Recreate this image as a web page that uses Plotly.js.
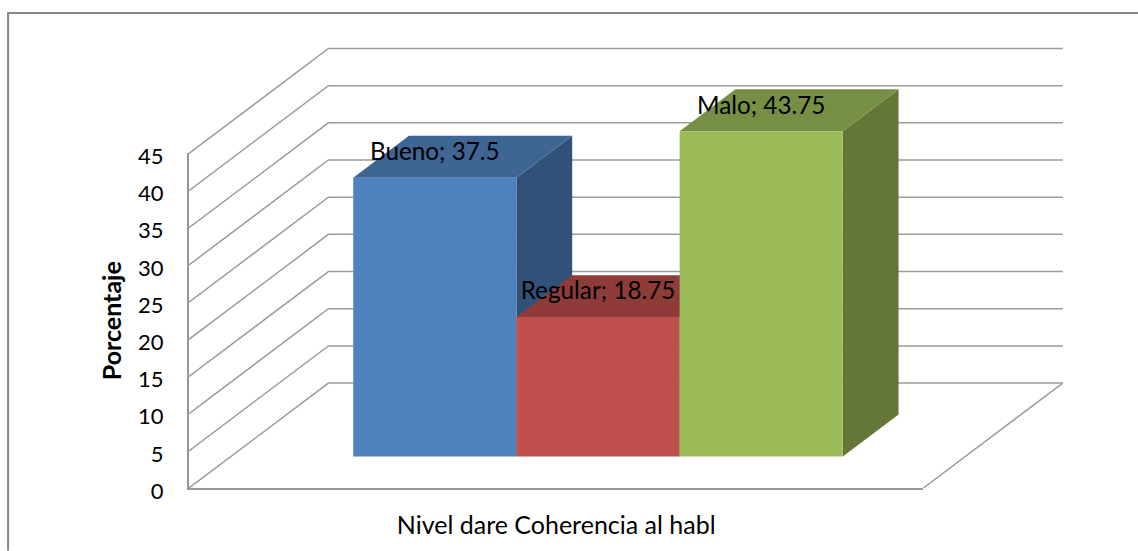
<!DOCTYPE html>
<html><head><meta charset="utf-8">
<script src="https://cdn.plot.ly/plotly-3.0.1.min.js"></script>
<style>html,body{margin:0;padding:0;background:#fff}#c{width:1138px;height:551px}</style>
</head><body><div id="c"></div>
<script>
const categories = ["Bueno", "Regular", "Malo"];
const values = [37.5, 18.75, 43.75];
const yTicks = [0, 5, 10, 15, 20, 25, 30, 35, 40, 45];
const frontColors = ["#4F81BD", "#C0504D", "#9BBB59"];
const topColors = ["#3F6593", "#8E3B39", "#778F45"];
const sideColors = ["#305279", "#8E3B39", "#647736"];
const GRID = "#9C9C9C";
const FONT = "Lato, Carlito, 'Open Sans', sans-serif";
const TITLE_SIZE = 25, LABEL_SIZE = 24.3, TICK_SIZE = 22;

// front box of the chart in page pixels, and the larger box that holds the 3D depth
const W = 1138, H = 551;
const L = 188.5, R = 923.3, T = 153.5, B = 488.3;
const R2 = 1075, T2 = 30;
const xMax = 4.5, yMax = 45;
const unitX = (R - L) / xMax, unitY = (B - T) / yMax;
// oblique projection: a point one full depth back shifts by this much in axis units
const shearX = 139.5 / unitX, shearY = 105 / unitY;
const gap = 0.75, depthFront = 0.3, depthBack = 0.7, labelLift = 3.2;

const P = (x, v, d) => [x + d * shearX, v + d * shearY];
const base = {type: "scatter", xaxis: "x2", yaxis: "y2", hoverinfo: "skip", showlegend: false, cliponaxis: false};
function poly(pts, color) {
  const p = pts.concat([pts[0]]);
  return Object.assign({}, base, {x: p.map(a => a[0]), y: p.map(a => a[1]), mode: "lines",
    fill: "toself", fillcolor: color, line: {width: 0, color: color}});
}
function path(pts) {
  return Object.assign({}, base, {x: pts.map(a => a[0]), y: pts.map(a => a[1]), mode: "lines",
    line: {color: GRID, width: 1.5}});
}
// the primary axes carry ticks and titles
const traces = [{type: "scatter", x: [], y: [], mode: "lines", hoverinfo: "skip", showlegend: false}];
yTicks.forEach(v => traces.push(path([P(0, v, 0), P(0, v, 1), P(xMax, v, 1)])));
traces.push(path([P(xMax, 0, 0), P(xMax, 0, 1)]));
values.forEach((v, i) => {
  const x0 = gap + i, x1 = x0 + 1;
  traces.push(poly([P(x1, 0, depthFront), P(x1, 0, depthBack), P(x1, v, depthBack), P(x1, v, depthFront)], sideColors[i]));
  traces.push(poly([P(x0, v, depthFront), P(x1, v, depthFront), P(x1, v, depthBack), P(x0, v, depthBack)], topColors[i]));
  traces.push(poly([P(x0, 0, depthFront), P(x1, 0, depthFront), P(x1, v, depthFront), P(x0, v, depthFront)], frontColors[i]));
});
const lab = values.map((v, i) => P(gap + i + 0.5, v + labelLift, depthFront));
traces.push(Object.assign({}, base, {x: lab.map(a => a[0]), y: lab.map(a => a[1]), mode: "text",
  text: values.map((v, i) => categories[i] + "; " + v),
  textposition: "middle center", textfont: {family: FONT, size: LABEL_SIZE, color: "#000"}}));

const px = x => (x - L) / (R2 - L), py = y => (B - y) / (B - T2);
const layout = {
  width: W, height: H, paper_bgcolor: "#fff", plot_bgcolor: "rgba(0,0,0,0)",
  margin: {l: L, r: W - R2, t: T2, b: H - B, pad: 0, autoexpand: false},
  showlegend: false,
  xaxis: {domain: [0, px(R)], range: [0, xMax], showgrid: false, zeroline: false, showticklabels: false, ticks: "",
    showline: true, linecolor: "#989898", linewidth: 2,
    title: {text: "Nivel dare Coherencia al habl", font: {family: FONT, size: TITLE_SIZE, color: "#000"}, standoff: 27}},
  yaxis: {domain: [0, py(T)], range: [0, yMax], tickvals: yTicks, ticktext: yTicks.map(String), showgrid: false, zeroline: false,
    showline: true, linecolor: "#989898", linewidth: 2, ticks: "outside", ticklen: 19, tickcolor: "rgba(0,0,0,0)",
    ticklabelshift: 3,
    tickfont: {family: FONT, size: TICK_SIZE, color: "#000"},
    title: {text: "<b>Porcentaje</b>", font: {family: FONT, size: TITLE_SIZE, color: "#000"}, standoff: 9}},
  xaxis2: {domain: [0, 1], range: [0, (R2 - L) / unitX], visible: false, anchor: "y2"},
  yaxis2: {domain: [0, 1], range: [0, (B - T2) / unitY], visible: false, anchor: "x2"},
  shapes: [{type: "path", xref: "paper", yref: "paper", layer: "below",
    path: `M ${px(7.5)} ${py(551)} L ${px(7.5)} ${py(13)} L ${px(1138)} ${py(13)}`,
    line: {color: "#868686", width: 2}}]
};
Plotly.newPlot("c", traces, layout, {displayModeBar: false, staticPlot: true});
</script></body></html>
